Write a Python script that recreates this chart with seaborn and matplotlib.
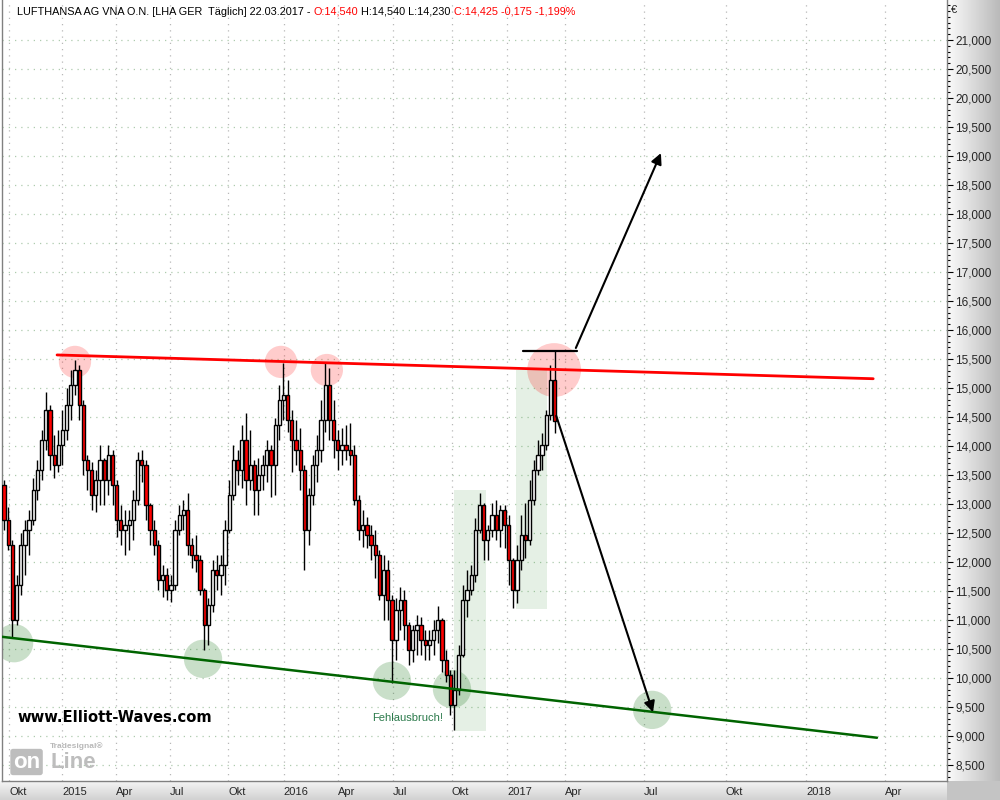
import numpy as np
import pandas as pd
import matplotlib
matplotlib.use('Agg')
import matplotlib.pyplot as plt
from matplotlib.colors import LinearSegmentedColormap
from matplotlib.patches import Rectangle
from matplotlib.lines import Line2D
from matplotlib.ticker import FixedLocator, MultipleLocator, FuncFormatter
import seaborn as sns

sns.set_style('white')
plt.rcParams['font.family'] = ['Liberation Sans', 'DejaVu Sans']

# weekly bars LHA, Sep 2014 .. 22.03.2017 (EUR); open = previous close
first_open = 13.33
closes = [12.72, 12.29, 11.00, 11.60, 12.29, 12.55, 12.72, 13.24, 13.59, 14.10,
          14.62, 13.84, 13.67, 14.02, 14.28, 14.71, 15.05, 15.31, 14.71, 13.76,
          13.59, 13.16, 13.41, 13.76, 13.41, 13.84, 13.33, 12.72, 12.55, 12.64,
          12.72, 13.07, 13.76, 13.67, 12.98, 12.55, 12.29, 11.69, 11.78, 11.52,
          11.60, 12.55, 12.81, 12.90, 12.29, 12.12, 12.03, 11.52, 10.91, 11.26,
          11.86, 11.78, 11.95, 12.55, 13.16, 13.76, 13.59, 14.10, 13.41, 13.67,
          13.24, 13.50, 13.67, 13.93, 13.67, 14.36, 14.79, 14.88, 14.45, 14.10,
          13.93, 13.59, 12.55, 13.16, 13.67, 13.93, 14.45, 15.05, 14.45, 14.10,
          13.93, 14.02, 13.93, 13.84, 13.07, 12.55, 12.64, 12.47, 12.29, 12.12,
          11.43, 11.86, 11.34, 10.66, 11.17, 11.34, 10.91, 10.48, 10.83, 10.91,
          10.66, 10.57, 10.66, 10.83, 11.00, 10.31, 10.05, 9.53, 9.79, 10.40,
          11.34, 11.52, 11.78, 12.55, 12.98, 12.38, 12.55, 12.81, 12.55, 12.90,
          12.64, 12.03, 11.52, 12.03, 12.47, 12.38, 13.07, 13.59, 13.84, 14.02,
          14.53, 15.14, 14.425]
highs = [13.41, 12.95, 12.38, 11.78, 12.50, 12.72, 12.90, 13.45, 13.76, 14.28,
         14.93, 14.71, 14.19, 14.28, 14.62, 15.00, 15.31, 15.48, 15.40, 14.79,
         13.84, 13.72, 13.59, 14.02, 13.79, 14.02, 13.93, 13.41, 12.98, 12.90,
         12.90, 13.24, 13.90, 13.93, 13.76, 13.02, 12.72, 12.38, 11.95, 11.90,
         11.78, 12.72, 12.98, 13.07, 13.19, 12.41, 12.47, 12.12, 11.55, 11.38,
         12.03, 12.12, 12.12, 12.72, 13.41, 14.02, 13.93, 14.36, 14.57, 14.28,
         13.76, 13.79, 13.84, 14.10, 14.02, 14.48, 15.05, 15.43, 15.14, 14.62,
         14.45, 14.31, 13.67, 13.28, 13.84, 14.19, 14.79, 15.43, 15.34, 14.79,
         14.28, 14.31, 14.36, 14.40, 14.02, 13.16, 12.90, 12.77, 12.64, 12.55,
         12.21, 12.12, 12.03, 11.43, 11.38, 11.57, 11.52, 10.96, 10.91, 11.09,
         11.05, 10.83, 10.83, 11.00, 11.24, 11.03, 10.48, 10.14, 10.14, 10.57,
         11.60, 11.86, 11.95, 12.76, 13.19, 13.02, 12.64, 13.02, 13.07, 12.98,
         12.98, 12.81, 12.07, 12.29, 12.81, 13.02, 13.41, 13.76, 14.10, 14.22,
         14.62, 15.40, 15.64]
lows = [12.55, 12.21, 10.71, 10.91, 11.43, 11.78, 12.12, 12.64, 13.07, 13.41,
        13.93, 13.59, 13.45, 13.55, 13.67, 14.10, 14.45, 14.88, 14.45, 13.50,
        13.24, 12.90, 12.86, 12.98, 12.98, 13.16, 12.98, 12.43, 12.29, 12.12,
        12.21, 12.38, 12.98, 13.38, 12.72, 12.29, 12.12, 11.52, 11.40, 11.34,
        11.31, 11.52, 12.47, 12.55, 12.12, 11.90, 11.83, 11.43, 10.48, 10.57,
        11.14, 11.52, 11.43, 11.60, 12.50, 13.07, 13.33, 13.28, 12.98, 13.24,
        12.81, 12.81, 13.24, 13.38, 13.12, 13.16, 14.10, 14.45, 14.24, 13.55,
        13.67, 13.24, 11.86, 12.29, 12.98, 13.38, 13.72, 14.24, 14.10, 13.79,
        13.59, 13.67, 13.76, 13.67, 12.98, 12.38, 12.26, 12.24, 12.03, 11.72,
        11.34, 11.00, 11.00, 9.91, 10.31, 10.83, 10.66, 10.22, 10.28, 10.40,
        10.40, 10.31, 10.31, 10.40, 10.60, 10.10, 9.93, 9.36, 9.10, 9.71,
        10.36, 11.05, 11.43, 11.66, 12.50, 12.03, 12.03, 12.43, 12.38, 12.26,
        12.24, 11.60, 11.21, 11.29, 11.86, 12.07, 12.29, 12.98, 13.50, 13.59,
        13.93, 14.45, 14.23]

tick_pos = [1.2, 13.9, 26.8, 39.8, 53.7, 67.1, 80.1, 93.3, 107.4, 120.6,
            134.5, 153.5, 173.1, 192.3, 211.3]
tick_labels = ['Okt', '2015', 'Apr', 'Jul', 'Okt', '2016', 'Apr', 'Jul', 'Okt',
               '2017', 'Apr', 'Jul', 'Okt', '2018', 'Apr']

resist_x = [12.7, 208.4]
resist_y = [15.57, 15.16]
support_x = [-0.5, 209.3]
support_y = [10.71, 8.97]

tops_x = [17.0, 66.4, 77.4]
tops_y = [15.45, 15.45, 15.31]
top_now_x = [131.9]
top_now_y = [15.31]
lows_x = [2.4, 47.7, 93.0, 107.4, 155.4]
lows_y = [10.60, 10.33, 9.95, 9.81, 9.45]

# shaded moves: (x0, x1, y0, y1)
boxes = [(107.9, 115.6, 9.09, 13.24), (122.8, 130.2, 11.19, 15.31)]
high_mark_x = [124.4, 137.4]
high_mark_y = 15.64
arrow_up = [(137.1, 15.69), (157.5, 19.05)]
arrow_down = [(132.4, 14.52), (155.6, 9.41)]

df = pd.DataFrame({'close': closes, 'high': highs, 'low': lows})
df['open'] = [first_open] + closes[:-1]
df['week'] = np.arange(len(df))
up = df['close'] >= df['open']

fig = plt.figure(figsize=(10, 8), dpi=100)
fig.patch.set_facecolor('white')

# axis panels with grey gradient
cm_r = LinearSegmentedColormap.from_list('r', ['#fbfbfb', '#bababa'])
cm_b = LinearSegmentedColormap.from_list('b', ['#f4f4f4', '#d2d2d2'])
axr = fig.add_axes([0.947, 0.02375, 0.053, 0.97625], zorder=0)
axr.imshow(np.linspace(0, 1, 60)[None, :], aspect='auto', cmap=cm_r, extent=[0, 1, 0, 1])
axr.axis('off')
axb = fig.add_axes([0, 0, 0.947, 0.02375], zorder=0)
axb.imshow(np.linspace(0, 1, 20)[:, None], aspect='auto', cmap=cm_b, extent=[0, 1, 0, 1])
axb.axis('off')
axc = fig.add_axes([0.947, 0, 0.053, 0.02375], zorder=0)
axc.set_facecolor('#c4c4c4')
axc.set_xticks([])
axc.set_yticks([])
for s in axc.spines.values():
    s.set_visible(False)

ax = fig.add_axes([0.002, 0.02375, 0.945, 0.97625], zorder=2)
ax.set_xlim(-0.5, 226.1)
ax.set_ylim(8.224, 21.69)

# shaded areas
for x0, x1, y0, y1 in boxes:
    ax.add_patch(Rectangle((x0, y0), x1 - x0, y1 - y0, facecolor='#2e8b2e',
                           alpha=0.12, edgecolor='none', zorder=1))

# circles
sns.scatterplot(x=tops_x, y=tops_y, s=540, color='red', alpha=0.2,
                edgecolor='none', legend=False, ax=ax, zorder=2)
sns.scatterplot(x=top_now_x, y=top_now_y, s=1500, color='red', alpha=0.2,
                edgecolor='none', legend=False, ax=ax, zorder=2)
sns.scatterplot(x=lows_x, y=lows_y, s=760, color='#1f7a1f', alpha=0.24,
                edgecolor='none', legend=False, ax=ax, zorder=2)

# candles
ax.vlines(df['week'], df['low'], df['high'], color='black', lw=1.0, zorder=3)
body_lo = df[['open', 'close']].min(axis=1)
body_h = (df['close'] - df['open']).abs().clip(lower=0.02)
ax.bar(df['week'], body_h, bottom=body_lo, width=0.78,
       color=np.where(up, 'white', '#ff0000'), edgecolor='black',
       linewidth=1.0, zorder=4)

# trend lines
sns.lineplot(x=resist_x, y=resist_y, color='#ff0000', lw=2.0, ax=ax, zorder=5)
sns.lineplot(x=support_x, y=support_y, color='#006400', lw=1.8, ax=ax, zorder=5)
ax.plot(high_mark_x, [high_mark_y] * 2, color='black', lw=1.6, zorder=5)

for (x0, y0), (x1, y1) in [arrow_up, arrow_down]:
    ax.annotate('', xy=(x1, y1), xytext=(x0, y0), zorder=6,
                arrowprops=dict(arrowstyle='-|>', color='black', lw=1.5,
                                mutation_scale=16, shrinkA=0, shrinkB=0))

# axes styling
ax.set_xticks(tick_pos)
ax.set_xticklabels(tick_labels)
for lab in ax.get_xticklabels():
    lab.set_horizontalalignment('left')
ax.yaxis.tick_right()
ax.yaxis.set_major_locator(FixedLocator(np.arange(8.5, 21.01, 0.5)))
ax.yaxis.set_minor_locator(MultipleLocator(0.1))
ax.yaxis.set_major_formatter(FuncFormatter(lambda v, p: f'{v:.3f}'.replace('.', ',')))
ax.tick_params(axis='y', which='major', length=4, width=0.8, color='black',
               labelsize=8.5, pad=2)
ax.tick_params(axis='y', which='minor', length=2, width=0.8, color='black')
ax.tick_params(axis='x', length=3, width=0.8, color='#404040', labelsize=8, pad=1)
ax.grid(True, axis='y', which='major', color='#aecbae', linestyle=(0, (1, 4)), lw=0.9)
ax.grid(True, axis='x', which='major', color='#b8b8b8', linestyle=(0, (1, 4)), lw=0.9)
ax.set_axisbelow(True)
ax.spines['top'].set_visible(False)
for side in ['left', 'right', 'bottom']:
    ax.spines[side].set_color('#808080')
    ax.spines[side].set_linewidth(1.0)
ax.set_xlabel('')
ax.set_ylabel('')

# header, pieces chained one after another
fs = 7.8
parts = [('LUFTHANSA AG VNA O.N. [LHA GER  Täglich] 22.03.2017 - ', 'black'),
         ('O:14,540', '#ff0000'), (' H:14,540 L:14,230 ', 'black'),
         ('C:14,425 -0,175 -1,199%', '#ff0000')]
last = fig.text(17 / 1000, 1 - 12 / 800, parts[0][0], color=parts[0][1],
                fontsize=fs, va='center', zorder=10)
for s, c in parts[1:]:
    last = ax.annotate(s, xy=(1, 0), xycoords=last, va='bottom', ha='left',
                       color=c, fontsize=fs, annotation_clip=False)

# header icon
fig.add_artist(Line2D([9.5 / 1000] * 2, [1 - 3 / 800, 1 - 20 / 800], color='black', lw=0.8))
fig.add_artist(Rectangle((6.5 / 1000, 1 - 15 / 800), 6 / 1000, 8 / 800,
                         facecolor='white', edgecolor='black', lw=0.8))

fig.text(951 / 1000, 1 - 10 / 800, '€', fontsize=8, va='center', ha='left')

fig.text(17 / 1000, 1 - 717 / 800, 'www.Elliott-Waves.com', fontsize=10.6,
         fontweight='bold', color='black', va='center', family='DejaVu Sans')
fig.text(372 / 1000, 1 - 718 / 800, 'Fehlausbruch!', fontsize=8,
         color='#2b7a4b', va='center')

# Tradesignal online logo
fig.text(50 / 1000, 1 - 746 / 800, 'Tradesignal®', fontsize=6, color='#b8b8b8',
         fontweight='bold', va='center')
fig.text(13 / 1000, 1 - 762 / 800, 'on', fontsize=16, fontweight='bold',
         color='white', va='center',
         bbox=dict(boxstyle='round,pad=0.12', fc='#bdbdbd', ec='none'))
fig.text(51 / 1000, 1 - 762 / 800, 'Line', fontsize=16, fontweight='bold',
         color='#bdbdbd', va='center')

fig.savefig('out.png', dpi=100)
